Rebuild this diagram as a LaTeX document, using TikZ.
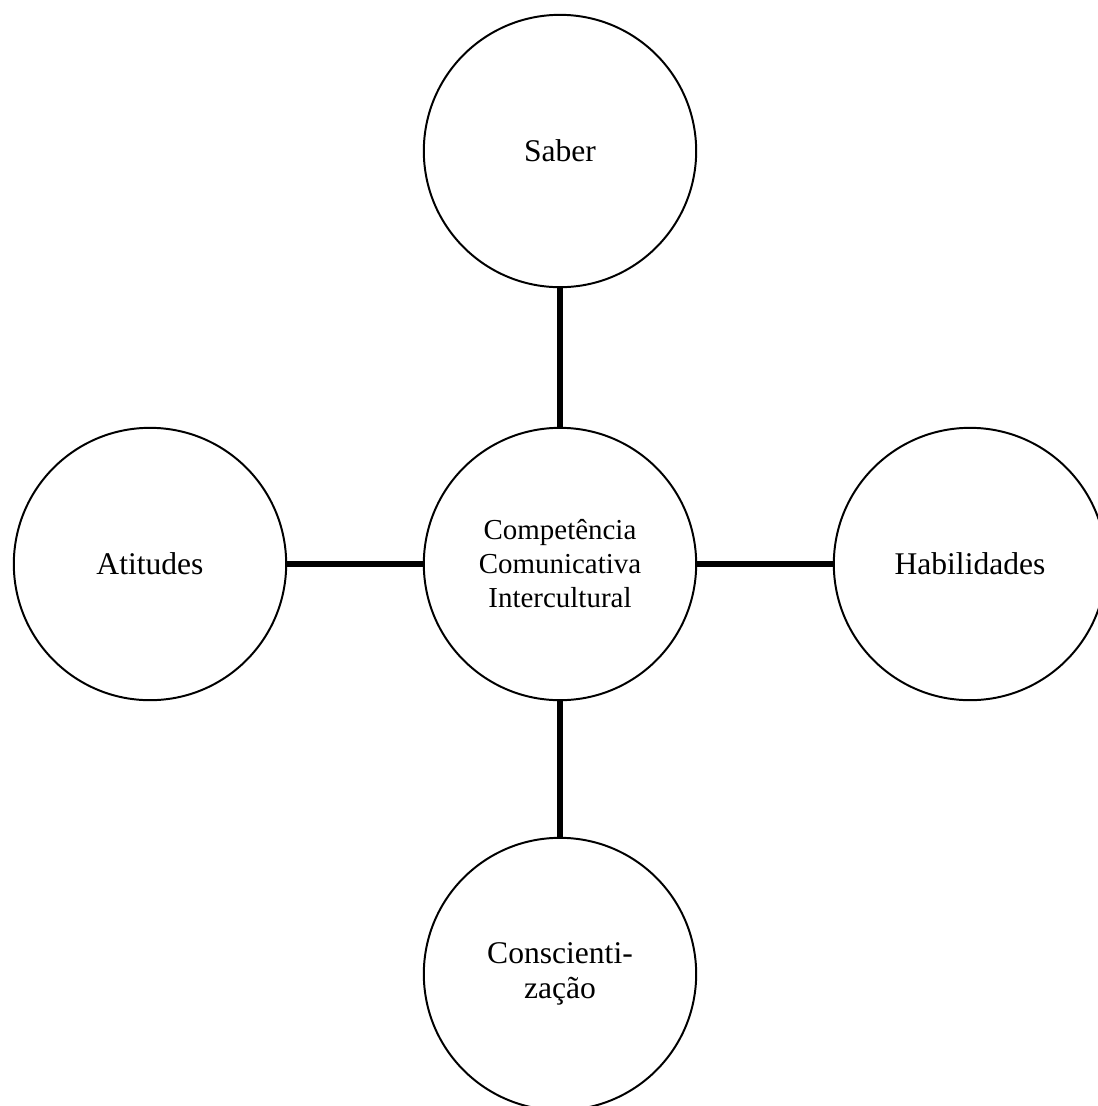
\documentclass[tikz,border=0pt]{standalone}
\usepackage{fontspec}
\setmainfont{Liberation Serif}

\begin{document}
\begin{tikzpicture}[x=0.38pt,y=-0.38pt]
    \useasboundingbox (0,0) rectangle (1098,1106);
    \clip (0,0) rectangle (1098,1106);

        % Circles, use the tuple for location
        \begin{scope}[every node/.style={circle,draw,line width=0.75pt,minimum size=103.5pt,inner sep=0pt,align=center,font=\fontsize{12}{13.4}\selectfont}]
        \node (Saber) at (560,151) {Saber};
        \node[font=\fontsize{11}{12.9}\selectfont] (CCI) at (560,564) {Competência\\Comunicativa\\Intercultural};
        \node (Atitudes) at (150,564) {Atitudes};
        \node (Habilidades) at (970,564) {Habilidades};
        \node (Consc) at (560,974) {Conscienti-\\zação};
        \end{scope}

        % Thick connectors to the centre
        \begin{scope}[every edge/.style={draw=black, line width=2pt}]
        \path [-] (Saber) edge[] (CCI);
        \path [-] (CCI) edge[] (Consc);
        \path [-] (Atitudes) edge[] (CCI);
        \path [-] (CCI) edge[] (Habilidades);
        \end{scope}

\end{tikzpicture}
\end{document}
